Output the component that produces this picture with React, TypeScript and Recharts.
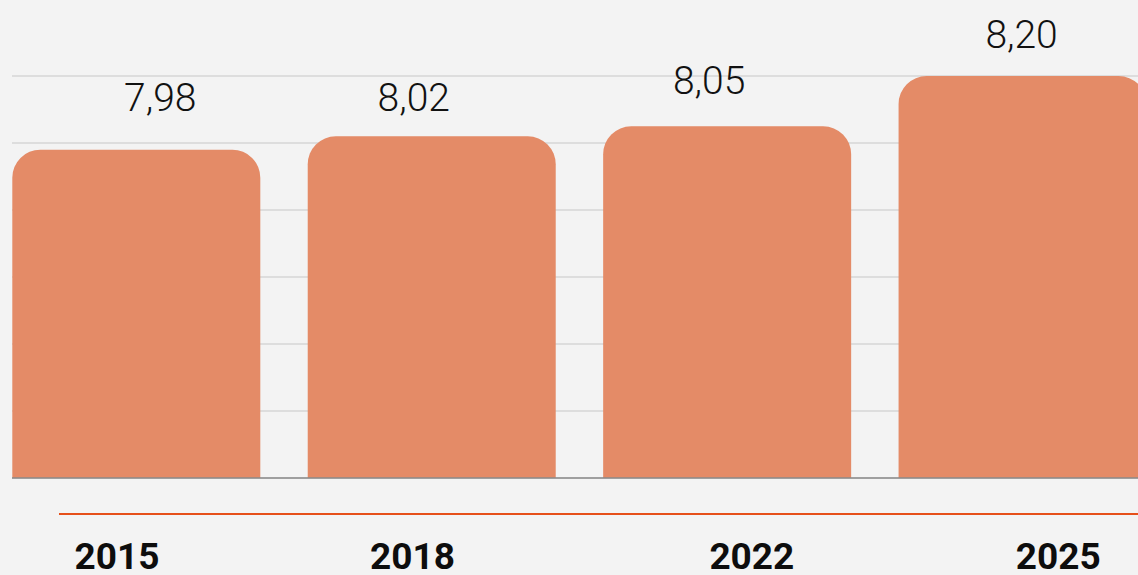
import { BarChart, Bar, XAxis, YAxis, CartesianGrid, LabelList } from 'recharts';

const years = ['2015', '2018', '2022', '2025'];
const values = [7.98, 8.02, 8.05, 8.2];
const yTicks = [7, 7.2, 7.4, 7.6, 7.8, 8, 8.2];

const data = years.map((year, i) => ({ year, value: values[i] }));

// small hand nudges the original layout has on its texts
const labelShift = [
  { dx: 24, dy: -39 },
  { dx: -18, dy: -25 },
  { dx: -18, dy: -32 },
  { dx: -1, dy: -28 },
];
const tickShift = [-19, -19, 25, 36];

const font = 'Roboto, "Noto Sans", sans-serif';

function ValueLabel(props: any) {
  const { x, y, width, value, index } = props;
  const s = labelShift[index] || { dx: 0, dy: -30 };
  return (
    <text
      x={x + width / 2 + s.dx}
      y={y + s.dy}
      textAnchor="middle"
      fontFamily={font}
      fontWeight={300}
      fontSize={39}
      fill="#111"
    >
      {value.toFixed(2).replace('.', ',')}
    </text>
  );
}

function YearTick(props: any) {
  const { x, y, payload, index } = props;
  return (
    <text
      x={x + (tickShift[index] || 0)}
      y={y + 89}
      textAnchor="middle"
      fontFamily={font}
      fontWeight={700}
      fontSize={37}
      fill="#0d0d0d"
    >
      {payload.value}
    </text>
  );
}

export default function App() {
  return (
    <div
      style={{
        position: 'fixed',
        left: 0,
        top: 0,
        width: 1138,
        height: 575,
        overflow: 'hidden',
        background: '#f3f3f3',
      }}
    >
      <BarChart
        width={1200}
        height={575}
        data={data}
        margin={{ top: 76, right: 30, bottom: 0, left: 12 }}
      >
        <CartesianGrid vertical={false} stroke="#c8c8c8" strokeWidth={1.2} />
        <XAxis
          dataKey="year"
          height={97}
          padding={{ left: -23.7, right: 0 }}
          axisLine={{ stroke: '#8a8a8a', strokeWidth: 1.5 }}
          tickLine={false}
          tickSize={0}
          tick={<YearTick />}
          interval={0}
        />
        <YAxis hide domain={[7, 8.2]} ticks={yTicks} allowDataOverflow />
        <Bar
          dataKey="value"
          fill="#e48b67"
          barSize={248}
          radius={[28, 28, 0, 0]}
          isAnimationActive={false}
        >
          <LabelList dataKey="value" content={<ValueLabel />} />
        </Bar>
      </BarChart>
      <div
        style={{
          position: 'absolute',
          left: 59,
          top: 513,
          width: 1100,
          height: 2,
          background: '#e6501a',
        }}
      />
    </div>
  );
}
